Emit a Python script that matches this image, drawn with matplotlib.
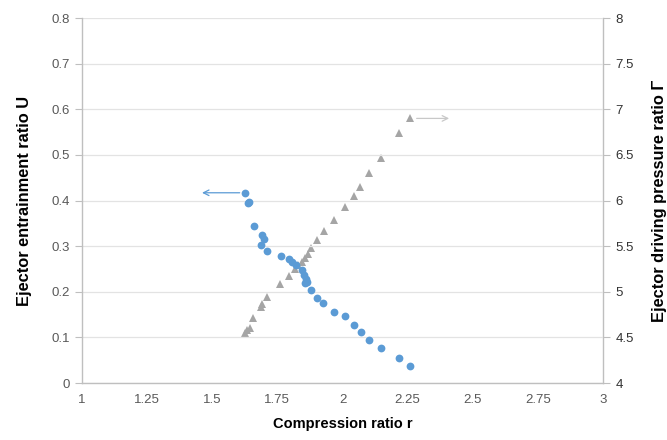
import numpy as np
import matplotlib.pyplot as plt
from matplotlib.ticker import FuncFormatter

plt.rcParams['font.family'] = ['Liberation Sans', 'DejaVu Sans']

# entrainment ratio U vs compression ratio r (left axis)
r_u = [1.626, 1.636, 1.642, 1.659, 1.692, 1.700, 1.688, 1.711, 1.763, 1.795,
       1.807, 1.820, 1.843, 1.853, 1.860, 1.857, 1.864, 1.880, 1.902, 1.927,
       1.967, 2.010, 2.043, 2.071, 2.103, 2.149, 2.218, 2.260]
u = [0.417, 0.394, 0.397, 0.345, 0.325, 0.315, 0.302, 0.290, 0.278, 0.271,
     0.265, 0.258, 0.248, 0.237, 0.229, 0.220, 0.222, 0.203, 0.186, 0.175,
     0.156, 0.146, 0.128, 0.112, 0.095, 0.077, 0.055, 0.038]

# driving pressure ratio (right axis)
r_g = [1.626, 1.632, 1.645, 1.655, 1.686, 1.692, 1.711, 1.760, 1.796, 1.818,
       1.831, 1.843, 1.856, 1.869, 1.880, 1.902, 1.928, 1.968, 2.011, 2.043,
       2.068, 2.102, 2.148, 2.218, 2.259]
gamma = [4.545, 4.58, 4.606, 4.716, 4.83, 4.862, 4.94, 5.085, 5.176, 5.25,
         5.29, 5.33, 5.366, 5.41, 5.48, 5.567, 5.666, 5.785, 5.93, 6.05,
         6.15, 6.30, 6.47, 6.74, 6.90]

blue = '#5B9BD5'
grey = '#A5A5A5'
tickc = '#595959'

fig = plt.figure(figsize=(6.67, 4.4), dpi=100)
ax = fig.add_axes([0.123, 0.1295, 0.781, 0.8295])
ax2 = ax.twinx()

ax.set_zorder(ax2.get_zorder() + 1)
ax.patch.set_visible(False)

ax.plot(r_u, u, 'o', color=blue, markersize=5.6, markeredgewidth=0, zorder=3)
ax2.plot(r_g, gamma, '^', color=grey, markersize=6.2, markeredgewidth=0)

# arrows pointing to each series' axis
ax.annotate('', xy=(1.45, u[0]), xytext=(r_u[0] - 0.01, u[0]),
            arrowprops=dict(arrowstyle='->', color=blue, lw=0.9, mutation_scale=10))
ax2.annotate('', xy=(2.42, gamma[-1]), xytext=(r_g[-1] + 0.015, gamma[-1]),
             arrowprops=dict(arrowstyle='->', color='#C8C8C8', lw=0.9, mutation_scale=10))

ax.set_xlim(1, 3)
ax.set_ylim(0, 0.8)
ax2.set_ylim(4, 8)
ax.set_xticks(np.arange(1, 3.01, 0.25))
ax.set_yticks(np.arange(0, 0.81, 0.1))
ax2.set_yticks(np.arange(4, 8.01, 0.5))

fmt = FuncFormatter(lambda v, p: '{:g}'.format(round(v, 2)))
ax.xaxis.set_major_formatter(fmt)
ax.yaxis.set_major_formatter(fmt)
ax2.yaxis.set_major_formatter(fmt)

ax.grid(axis='y', color='#E3E3E3', lw=0.9)
ax.set_axisbelow(True)

for a in (ax, ax2):
    for s in a.spines.values():
        s.set_visible(False)
ax.spines['left'].set_visible(True)
ax.spines['bottom'].set_visible(True)
ax2.spines['right'].set_visible(True)
for s in (ax.spines['left'], ax.spines['bottom'], ax2.spines['right']):
    s.set_color('#BFBFBF')
    s.set_linewidth(1.0)

ax.tick_params(axis='x', length=0, pad=8, labelsize=9.5, labelcolor=tickc)
ax.tick_params(axis='y', length=5, color='#BFBFBF', pad=4, labelsize=9.5, labelcolor=tickc)
ax2.tick_params(axis='y', length=5, color='#BFBFBF', pad=4, labelsize=9.5, labelcolor='#333333')

ax.set_xlabel('Compression ratio r', fontsize=10.5, fontweight='bold', labelpad=8)
ax.set_ylabel('Ejector entrainment ratio U', fontsize=11.8, fontweight='bold', labelpad=14)
ax2.set_ylabel('Ejector driving pressure ratio Γ', fontsize=11.8, fontweight='bold', labelpad=13)

fig.savefig('out.png', dpi=100)
